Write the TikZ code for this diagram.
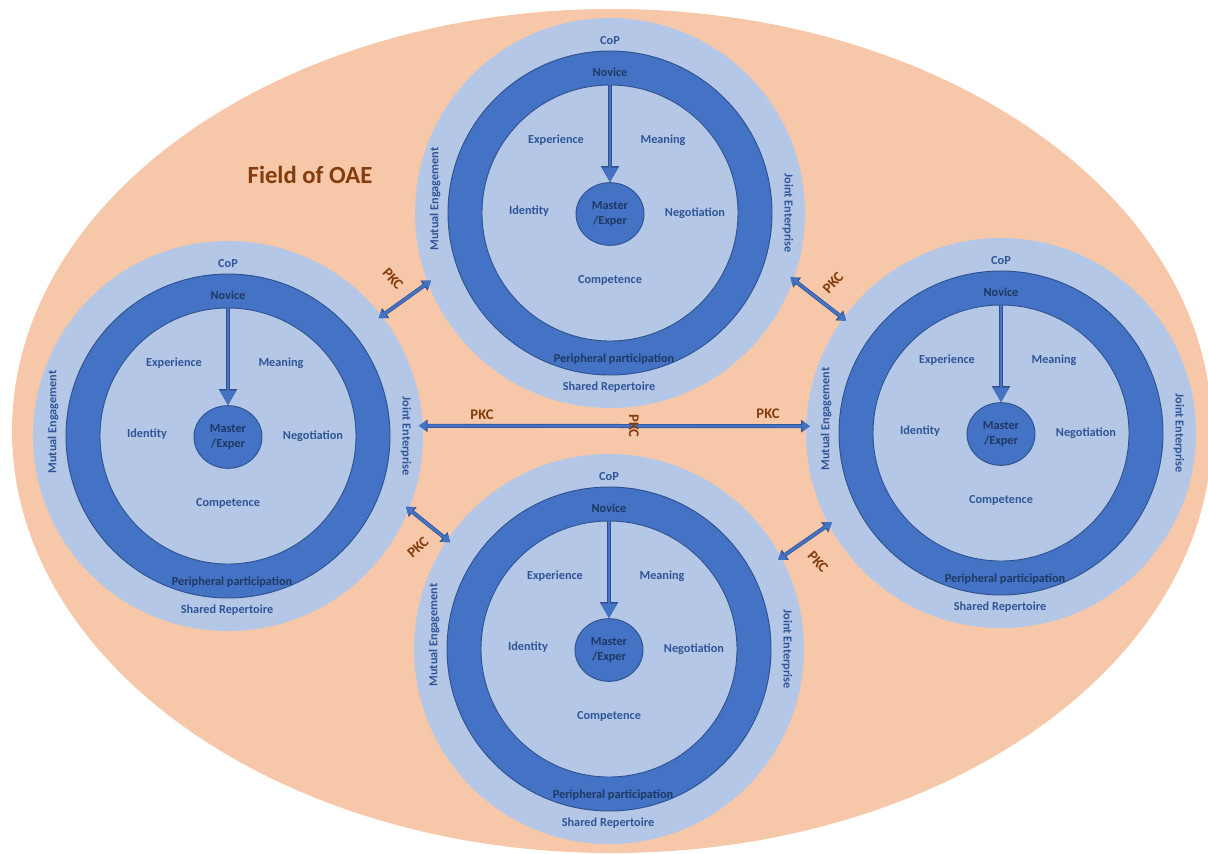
\documentclass[tikz,border=0pt]{standalone}
\usepackage{fontspec}
\setmainfont{Carlito}
\usetikzlibrary{arrows.meta}
\usetikzlibrary{shapes.geometric}

\definecolor{oaepeach}{HTML}{F6C8A9}
\definecolor{paleblue}{HTML}{B4C7E7}
\definecolor{ringblue}{HTML}{4472C4}
\definecolor{ringedge}{HTML}{2F528F}
\definecolor{lblblue}{HTML}{2F5597}
\definecolor{navy}{HTML}{1F3864}
\definecolor{pkcbrown}{HTML}{843C0C}

\tikzset {
  % background field
  field/.style = {
    ellipse,
    fill = oaepeach,
    minimum width = 900pt,
    minimum height = 633pt,
    inner sep = 0
  },
  % the three discs of a community of practice
  cop disc/.style = {
    circle,
    inner sep = 0
  },
  cop outer/.style = {
    cop disc,
    fill = paleblue,
    minimum size = 292.5pt
  },
  cop ring/.style = {
    cop disc,
    fill = ringblue,
    draw = ringedge,
    line width = .7pt,
    minimum size = 243pt
  },
  cop inner/.style = {
    cop disc,
    fill = paleblue,
    draw = ringedge,
    line width = .7pt,
    minimum size = 192pt
  },
  master/.style = {
    ellipse,
    fill = ringblue,
    draw = ringedge,
    line width = .7pt,
    minimum width = 51pt,
    minimum height = 47pt,
    inner sep = 0,
    align = center,
    text = navy,
    font = \bfseries\fontsize{9.2pt}{11.5pt}\selectfont
  }
}
\tikzset {
  lbl/.style = {
    text = lblblue,
    inner sep = 1pt,
    font = \bfseries\fontsize{9.2pt}{11pt}\selectfont
  },
  % text sitting on the dark ring
  ring lbl/.style = {
    lbl,
    text = navy
  },
  pkc lbl/.style = {
    text = pkcbrown,
    inner sep = 0pt,
    font = \bfseries\fontsize{11pt}{12pt}\selectfont
  },
  % novice to master arrow
  novice arrow/.style = {
    draw = ringblue,
    line width = 1.6pt,
    -{Triangle[length=11pt,width=11.5pt,fill=ringblue]},
    preaction = {
      draw = ringedge,
      line width = 2.6pt,
      -{Triangle[length=12pt,width=13pt]}
    }
  },
  % knowledge exchange between communities
  pkc/.style = {
    draw = ringblue,
    line width = 2pt,
    shorten <= -3pt,
    shorten >= -3pt,
    {Triangle[length=5.5pt,width=7.5pt]}-{Triangle[length=5.5pt,width=7.5pt]},
    preaction = {
      draw = ringedge,
      line width = 3pt,
      shorten <= -3pt,
      shorten >= -3pt,
      {Triangle[length=6.5pt,width=9pt]}-{Triangle[length=6.5pt,width=9pt]}
    }
  }
}

\begin{document}
\begin{tikzpicture}[x=0.75pt, y=-0.75pt]
    \useasboundingbox (0,0) rectangle (1208,854);
    \clip (0,0) rectangle (1208,854);
    \fill[white] (0,0) rectangle (1208,854);

    \node[field] (oae) at (612,431) {};
    \node[text=pkcbrown, font=\bfseries\fontsize{18.5pt}{21pt}\selectfont]
      (oae-title) at (310,175) {Field of OAE};

    % four communities of practice
    \foreach \u/\cx/\cy in {t/610/213, l/228/436, r/1001/433, b/609/649} {
      \coordinate (\u) at (\cx,\cy);
      \node[cop outer] (\u-outer) at (\u) {};
      \node[cop ring] (\u-ring) at (\u) {};
      \node[cop inner] (\u-inner) at (\u) {};
      \node[master] (\u-master) at ([shift={(0,1)}]\u) {Master\\/Exper};

      \node[lbl] (\u-cop) at ([shift={(0,-172)}]\u) {CoP};
      \node[ring lbl] (\u-novice) at ([shift={(0,-141)}]\u) {Novice};
      \node[lbl] (\u-exp) at ([shift={(-54,-73)}]\u) {Experience};
      \node[lbl] (\u-mean) at ([shift={(53,-73)}]\u) {Meaning};
      \node[lbl] (\u-ident) at ([shift={(-81,-2)}]\u) {Identity};
      \node[lbl] (\u-nego) at ([shift={(85,0)}]\u) {Negotiation};
      \node[lbl] (\u-comp) at ([shift={(0,67)}]\u) {Competence};
      \node[ring lbl] (\u-peri) at ([shift={(4,146)}]\u) {Peripheral participation};
      \node[lbl] (\u-shared) at ([shift={(-1,174)}]\u) {Shared Repertoire};
      \node[lbl, rotate=90] (\u-mutual) at ([shift={(-175,-14)}]\u) {Mutual Engagement};
      \node[lbl, rotate=-90] (\u-joint) at ([shift={(178,0)}]\u) {Joint Enterprise};

      \draw[novice arrow] (\u-inner.north) -- (\u-master.north);
    }

    % links between the communities
    \draw[pkc] (l-outer.38) -- (t-outer.201);
    \draw[pkc] (t-outer.340) -- (r-outer.144);
    \draw[pkc] (l-outer.338) -- (b-outer.146);
    \draw[pkc] (b-outer.28) -- (r-outer.208);
    \draw[pkc] (l-outer.3) -- (r-outer.178);

    \node[pkc lbl, rotate=-48] (pkc-tl) at (393,279) {PKC};
    \node[pkc lbl, rotate=48] (pkc-tr) at (833,283) {PKC};
    \node[pkc lbl, rotate=42] (pkc-bl) at (418,547) {PKC};
    \node[pkc lbl, rotate=-48] (pkc-br) at (818,562) {PKC};
    \node[pkc lbl] (pkc-hl) at (482,415) {PKC};
    \node[pkc lbl] (pkc-hr) at (768,414) {PKC};
    \node[pkc lbl, rotate=-90] (pkc-hm) at (634,426) {PKC};
  \end{tikzpicture}
\end{document}
